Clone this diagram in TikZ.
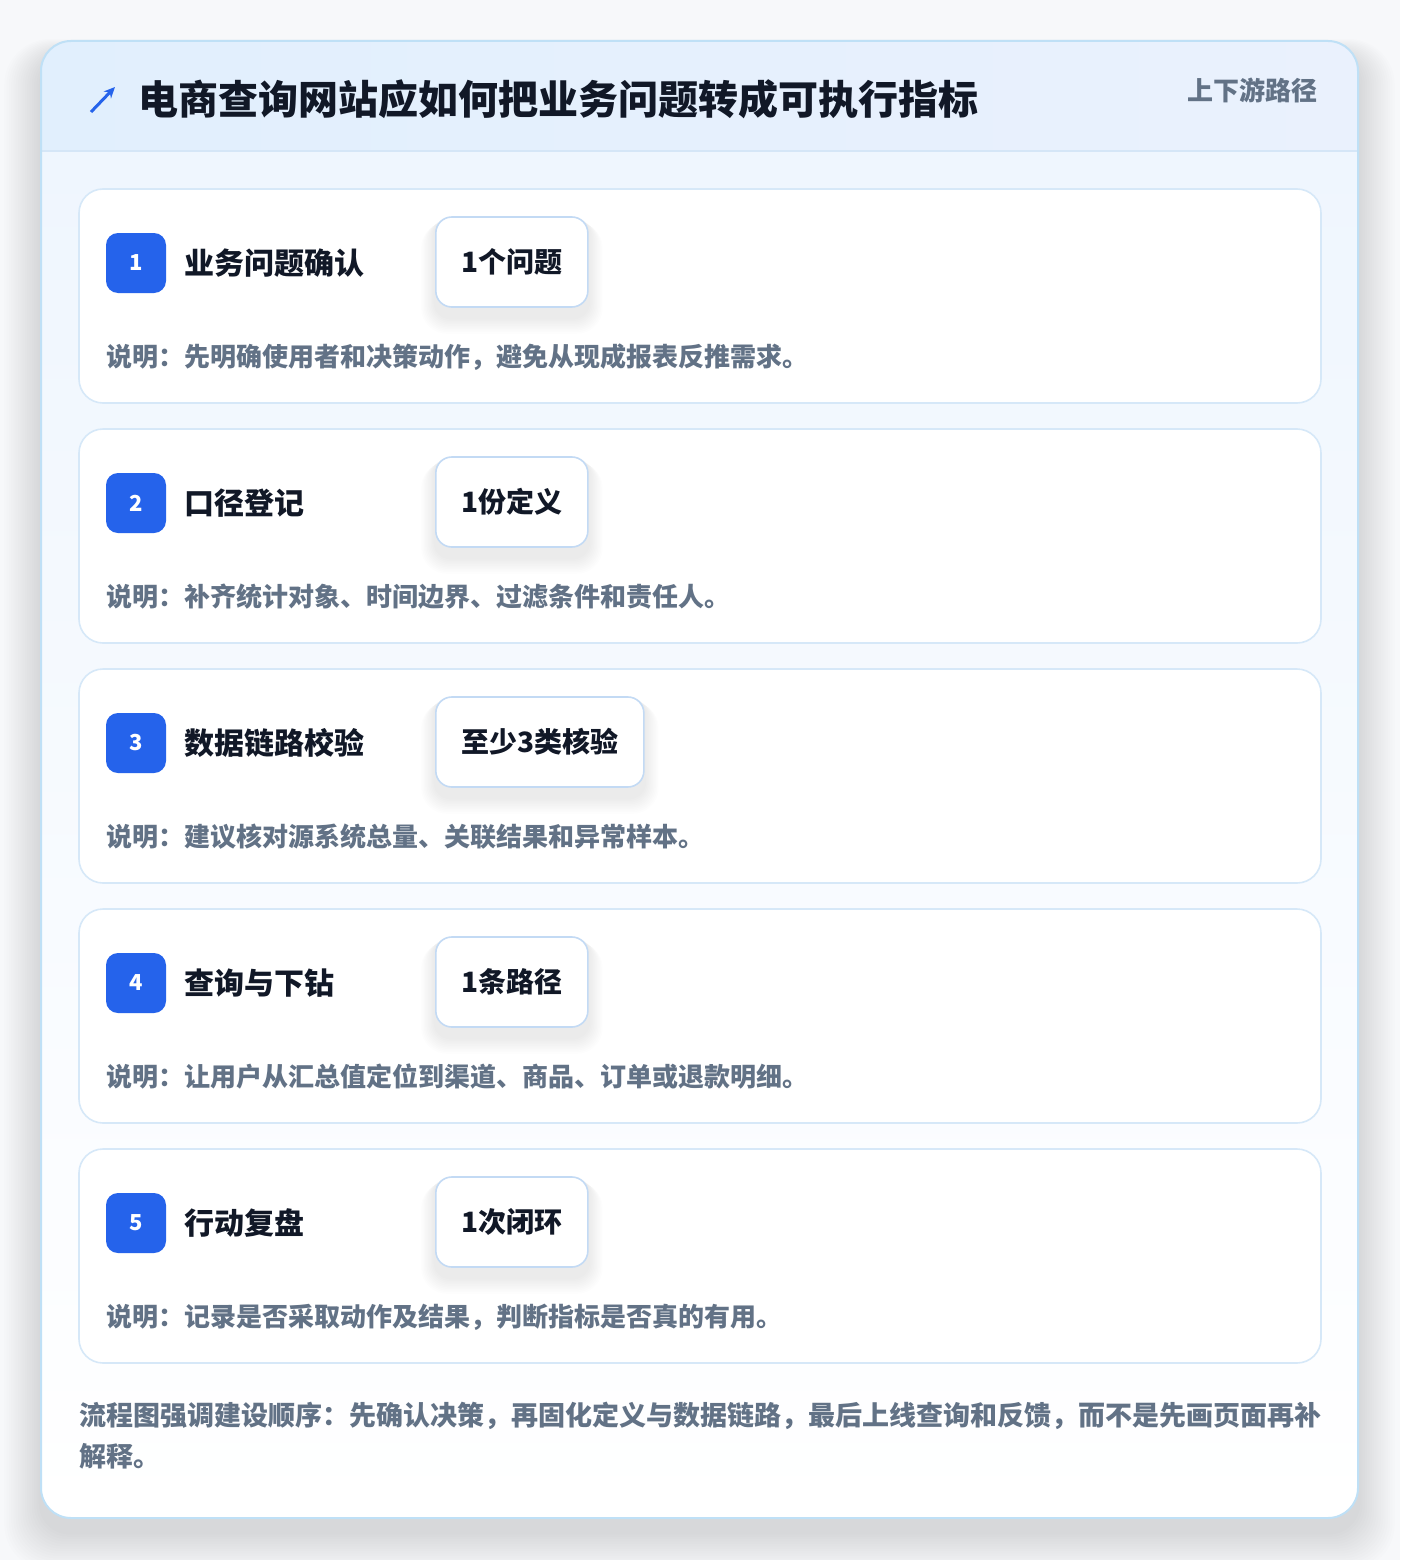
\documentclass[tikz,border=0pt]{standalone}
\usepackage{fontspec}
\setmainfont{Noto Sans CJK SC}
\usetikzlibrary{arrows.meta}
\pgfdeclarelayer{front}
\pgfsetlayers{main,front}
\definecolor{pagebg}{HTML}{F7F8FA}
\definecolor{cardline}{HTML}{BFE0F6}
\definecolor{hdrL}{HTML}{E1EFFD}
\definecolor{hdrR}{HTML}{EAF1FD}
\definecolor{hdrline}{HTML}{D5E6F7}
\definecolor{bodytop}{HTML}{EFF6FE}
\definecolor{stepline}{HTML}{D6E8F8}
\definecolor{pillline}{HTML}{C3DAF4}
\definecolor{accent}{HTML}{2563EB}
\definecolor{ink}{HTML}{111827}
\definecolor{muted}{HTML}{627286}
\tikzset{
  stepcard/.style={draw=stepline, line width=1.6pt, fill=white, rounded corners=24pt,
    minimum width=1242pt, minimum height=214pt, inner sep=0pt},
  badge/.style={fill=accent, rounded corners=12pt, minimum width=60pt, minimum height=60pt,
    inner sep=0pt, text=white, font=\bfseries\fontsize{22}{26}\selectfont},
  steptitle/.style={anchor=west, inner sep=0pt, text=ink, font=\bfseries\fontsize{30}{36}\selectfont},
  pill/.style={anchor=west, draw=pillline, line width=1.6pt, fill=white, rounded corners=16pt,
    minimum height=90pt, inner xsep=25.5pt, inner ysep=0pt, text=ink,
    font=\bfseries\fontsize{28}{34}\selectfont},
  pillshadow/.style={fill=black, opacity=0.006},
  desc/.style={anchor=west, inner sep=0pt, text=muted, font=\bfseries\fontsize{26}{30}\selectfont},
}
\begin{document}
\begin{tikzpicture}[x=1pt,y=-1pt]
\useasboundingbox (0,0) rectangle (1400,1560);
\fill[pagebg] (0,0) rectangle (1400,1560);
% soft shadow of main card
\foreach \s in {1,...,16}{
  \fill[black, opacity=0.008, rounded corners={30pt+\s pt}]
    ({41-\s*2.3},{41-\s*1.0+14}) rectangle ({1358+\s*2.3},{1518+\s*2.4+14});
}
% main card
\fill[white, rounded corners=30pt] (41,41) rectangle (1358,1518);
\begin{scope}
  \clip[rounded corners=30pt] (41,41) rectangle (1358,1518);
  \shade[top color=bodytop, bottom color=white] (41,151) rectangle (1358,1518);
  \shade[left color=hdrL, right color=hdrR] (41,41) rectangle (1358,151);
\end{scope}
\draw[hdrline, line width=1.5pt] (42,151) -- (1357,151);
\draw[cardline, line width=2pt, rounded corners=30pt] (41,41) rectangle (1358,1518);
% header
\coordinate (arrS) at (91,112);
\coordinate (arrE) at (115,87);
\draw[accent, line width=3pt, -{Stealth[length=11pt,width=10pt]}] (arrS) -- (arrE);
\node[anchor=west, inner sep=0pt, text=ink, font=\bfseries\fontsize{40}{48}\selectfont] (title) at (138,99)
  {电商查询网站应如何把业务问题转成可执行指标};
\node[anchor=east, inner sep=0pt, text=muted, font=\bfseries\fontsize{26}{32}\selectfont] (tag) at (1318,90)
  {上下游路径};
% steps
\foreach \i/\t/\p/\d in {
  1/业务问题确认/1个问题/说明：先明确使用者和决策动作，避免从现成报表反推需求。,
  2/口径登记/1份定义/说明：补齐统计对象、时间边界、过滤条件和责任人。,
  3/数据链路校验/至少3类核验/说明：建议核对源系统总量、关联结果和异常样本。,
  4/查询与下钻/1条路径/说明：让用户从汇总值定位到渠道、商品、订单或退款明细。,
  5/行动复盘/1次闭环/说明：记录是否采取动作及结果，判断指标是否真的有用。}{
  \pgfmathsetmacro{\y}{189+240*(\i-1)}
  \node[stepcard] (card\i) at (700,{\y+107}) {};
  \node[badge] (badge\i) at (136,{\y+74}) {\i};
  \node[steptitle] (stitle\i) at (184,{\y+74}) {\t};
  \begin{pgfonlayer}{front}
    \node[pill] (pill\i) at (435,{\y+73}) {\p};
  \end{pgfonlayer}
  \foreach \k in {1,...,10}{
    \fill[pillshadow, rounded corners={16pt+\k pt}]
      ([xshift={-\k*1.4pt}, yshift={-\k*0.6pt}]pill\i.north west) rectangle
      ([xshift={\k*1.4pt}, yshift={-10pt-\k*1.6pt}]pill\i.south east);
  }
  \node[desc] (desc\i) at (106,{\y+168}) {\d};
}
% footer
\node[anchor=north west, inner sep=0pt, align=left, text=muted,
  font=\bfseries\fontsize{27}{41}\selectfont] (footer) at (79,1402)
  {流程图强调建设顺序：先确认决策，再固化定义与数据链路，最后上线查询和反馈，而不是先画页面再补\\解释。};
\end{tikzpicture}
\end{document}
